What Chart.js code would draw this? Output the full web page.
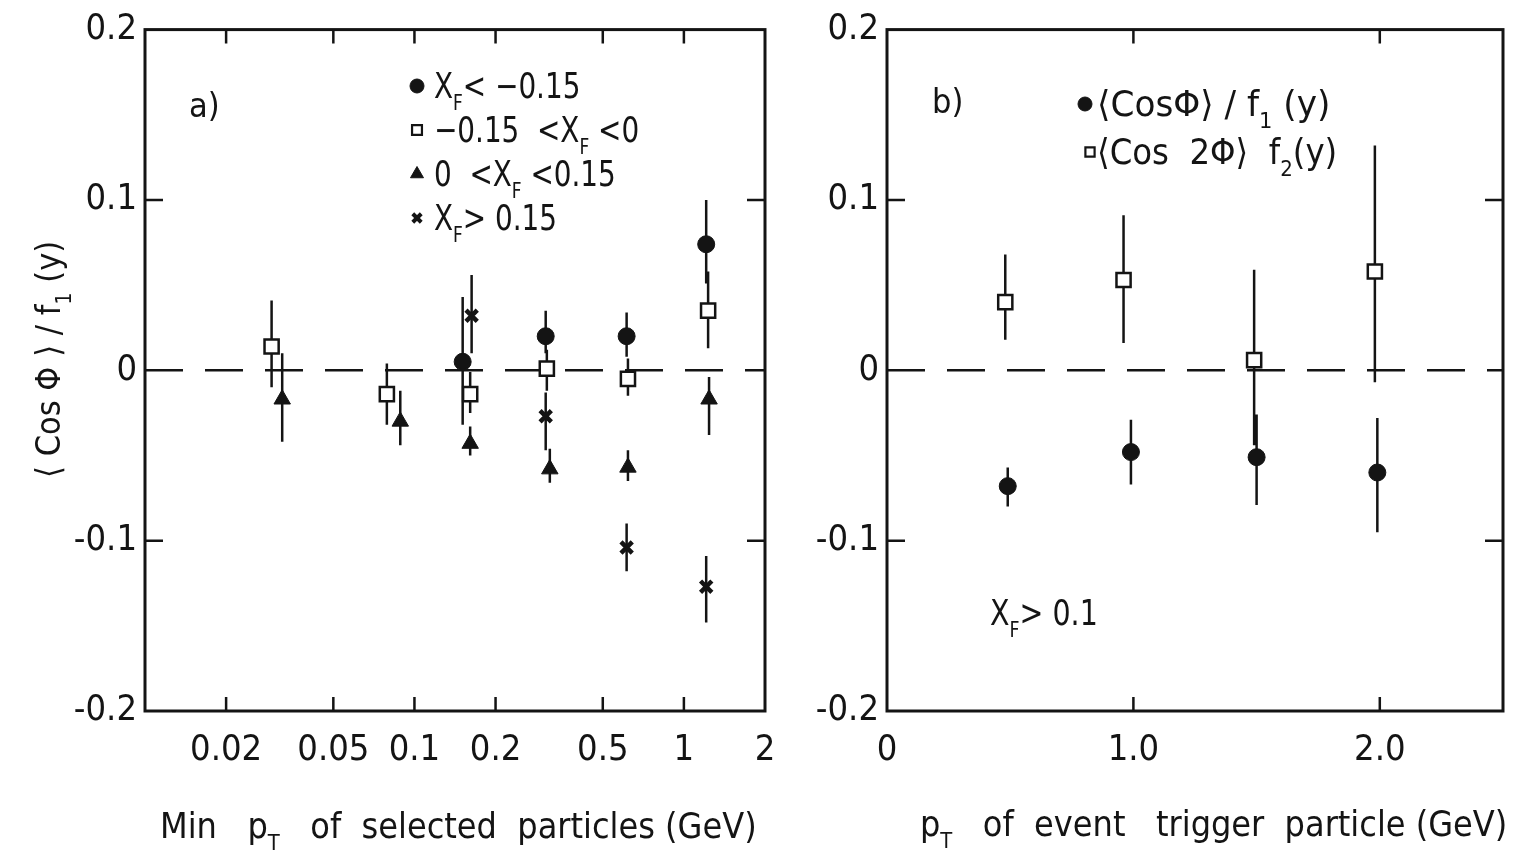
<!DOCTYPE html>
<html>
<head>
<meta charset="utf-8">
<script src="https://cdn.jsdelivr.net/npm/chart.js@4.4.1/dist/chart.umd.min.js"></script>
<style>
  html, body { margin: 0; padding: 0; background: #fff; }
  #wrapA { position: absolute; left: 0; top: 0; width: 780px; height: 859px; }
  #wrapB { position: absolute; left: 780px; top: 0; width: 737px; height: 859px; }
</style>
</head>
<body>
<div id="wrapA"><canvas id="chartA"></canvas></div>
<div id="wrapB"><canvas id="chartB"></canvas></div>
<script>
// ---- panel a) : <cos phi>/f1(y) vs min pT of selected particles ----
const aTicks = [0.02, 0.05, 0.1, 0.2, 0.5, 1, 2];
const aTickText = ['0.02', '0.05', '0.1', '0.2', '0.5', '1', '2'];

// x_F < -0.15 (filled circles)
const aNegX  = [0.151, 0.307, 0.613, 1.21];
const aNegY  = [0.005, 0.020, 0.020, 0.074];
const aNegLo = [-0.032, 0.010, 0.008, 0.051];
const aNegHi = [0.043, 0.035, 0.034, 0.100];

// -0.15 < x_F < 0 (open squares)
const aMidX  = [0.0295, 0.079, 0.161, 0.310, 0.620, 1.23];
const aMidY  = [0.014, -0.014, -0.014, 0.001, -0.005, 0.035];
const aMidLo = [-0.010, -0.032, -0.025, -0.012, -0.015, 0.013];
const aMidHi = [0.041, 0.004, -0.001, 0.012, 0.007, 0.058];

// 0 < x_F < 0.15 (filled triangles)
const aPosX  = [0.0323, 0.0886, 0.161, 0.318, 0.620, 1.24];
const aPosY  = [-0.017, -0.030, -0.043, -0.058, -0.057, -0.017];
const aPosLo = [-0.042, -0.044, -0.050, -0.066, -0.065, -0.038];
const aPosHi = [0.010, -0.012, -0.033, -0.046, -0.047, -0.004];

// x_F > 0.15 (crosses)
const aFwdX  = [0.163, 0.307, 0.613, 1.21];
const aFwdY  = [0.032, -0.027, -0.104, -0.127];
const aFwdLo = [0.010, -0.047, -0.118, -0.148];
const aFwdHi = [0.056, -0.013, -0.090, -0.109];

// ---- panel b) : vs pT of event trigger particle, x_F > 0.1 ----
const bTicks = [0, 1, 2];
const bTickText = ['0', '1.0', '2.0'];

// <cos phi>/f1(y) (filled circles)
const bCosX  = [0.49, 0.99, 1.50, 1.99];
const bCosY  = [-0.068, -0.048, -0.051, -0.060];
const bCosLo = [-0.080, -0.067, -0.079, -0.095];
const bCosHi = [-0.057, -0.029, -0.026, -0.028];

// <cos 2phi> f2(y) (open squares)
const bCos2X  = [0.48, 0.96, 1.49, 1.98];
const bCos2Y  = [0.040, 0.053, 0.006, 0.058];
const bCos2Lo = [0.018, 0.016, -0.044, -0.007];
const bCos2Hi = [0.068, 0.091, 0.059, 0.132];

const yTicks = [-0.2, -0.1, 0, 0.1, 0.2];
const yTickText = ['-0.2', '-0.1', '0', '0.1', '0.2'];

// legend / label texts; parts starting with "_" are subscripts
const legendA = [
  ['X', '_F', '< \u22120.15'],
  ['\u22120.15  <X', '_F', ' <0'],
  ['0  <X', '_F', ' <0.15'],
  ['X', '_F', '> 0.15']
];
const legendB = [
  ['\u27E8Cos\u03A6\u27E9 / f', '_1', ' (y)'],
  ['\u27E8Cos  2\u03A6\u27E9  f', '_2', '(y)']
];
const titleA = ['Min   p', '_T', '   of  selected  particles (GeV)'];
const titleB = ['p', '_T', '   of  event   trigger  particle (GeV)'];
const titleY = ['\u27E8 Cos \u03A6 \u27E9 / f', '_1', ' (y)'];

const FONT = "'Liberation Sans Narrow', 'DejaVu Sans Condensed', 'DejaVu Sans', sans-serif";
const INK = '#141414';

function pts(xs, ys) {
  return xs.map((x, i) => ({ x: x, y: ys[i] }));
}

// draws text parts with subscripts; squeeze narrows the run horizontally
function rich(ctx, parts, x, y, size, squeeze) {
  const k = squeeze || 1;
  ctx.save();
  ctx.translate(x, y);
  ctx.scale(k, 1);
  let cx = 0;
  parts.forEach(p => {
    const sub = p[0] === '_';
    const t = sub ? p.slice(1) : p;
    ctx.font = (sub ? Math.round(size * 0.62) : size) + 'px ' + FONT;
    ctx.fillText(t, cx, sub ? size * 0.32 : 0);
    cx += ctx.measureText(t).width;
  });
  ctx.restore();
}

function symbol(ctx, style, r, x, y, fill, bw) {
  ctx.fillStyle = fill;
  ctx.strokeStyle = INK;
  ctx.lineWidth = bw;
  Chart.helpers.drawPoint(ctx, { pointStyle: style, radius: r, borderWidth: bw, rotation: 0 }, x, y);
}

// frame, inward ticks, dashed zero line, error bars, texts
const decoPlugin = {
  id: 'deco',
  beforeDatasetsDraw(chart, args, o) {
    const { ctx, chartArea: a, scales: { x, y } } = chart;
    ctx.save();
    ctx.strokeStyle = INK;
    ctx.lineWidth = 3;
    ctx.strokeRect(a.left, a.top, a.right - a.left, a.bottom - a.top);
    ctx.lineWidth = 2.5;
    ctx.beginPath();
    o.xMarks.forEach(v => {
      const px = x.getPixelForValue(v);
      ctx.moveTo(px, a.top); ctx.lineTo(px, a.top + 14);
      ctx.moveTo(px, a.bottom); ctx.lineTo(px, a.bottom - 14);
    });
    [-0.1, 0.1].forEach(v => {
      const py = y.getPixelForValue(v);
      ctx.moveTo(a.left, py); ctx.lineTo(a.left + 18, py);
      ctx.moveTo(a.right, py); ctx.lineTo(a.right - 18, py);
    });
    ctx.stroke();

    ctx.setLineDash([38, 22]);
    ctx.beginPath();
    const y0 = y.getPixelForValue(0);
    ctx.moveTo(a.left, y0); ctx.lineTo(a.right, y0);
    ctx.stroke();
    ctx.setLineDash([]);

    ctx.lineWidth = 2.5;
    ctx.beginPath();
    chart.data.datasets.forEach(ds => {
      ds.data.forEach((p, j) => {
        const px = x.getPixelForValue(p.x);
        ctx.moveTo(px, y.getPixelForValue(ds.lo[j]));
        ctx.lineTo(px, y.getPixelForValue(ds.hi[j]));
      });
    });
    ctx.stroke();
    ctx.restore();
  },
  afterDraw(chart, args, o) {
    const ctx = chart.ctx;
    ctx.save();
    ctx.fillStyle = INK;
    ctx.textBaseline = 'alphabetic';
    ctx.textAlign = 'left';
    o.draw(ctx);
    ctx.restore();
  }
};

function scatterSet(xs, ys, lo, hi, style, r, fill, bw) {
  return {
    data: pts(xs, ys), lo: lo, hi: hi,
    pointStyle: style, pointRadius: r, pointHoverRadius: r,
    backgroundColor: fill, borderColor: INK, borderWidth: bw,
    showLine: false
  };
}

function yScale(width) {
  return {
    min: -0.2, max: 0.2,
    grid: { display: false, drawTicks: false },
    border: { display: false },
    afterBuildTicks: s => { s.ticks = yTicks.map(v => ({ value: v })); },
    afterFit: s => { s.width = width; },
    ticks: {
      padding: 8, color: INK, font: { family: FONT, size: 36 },
      callback: (v, i) => yTickText[i]
    }
  };
}

function xScale(extra, ticks, labels) {
  return Object.assign({
    grid: { display: false, drawTicks: false },
    border: { display: false },
    afterBuildTicks: s => { s.ticks = ticks.map(v => ({ value: v })); },
    afterFit: s => { s.height = 148; s.paddingLeft = 0; s.paddingRight = 0; },
    ticks: {
      autoSkip: false, maxRotation: 0, padding: 18, color: INK,
      font: { family: FONT, size: 36 },
      callback: (v, i) => labels[i]
    }
  }, extra);
}

new Chart(document.getElementById('chartA'), {
  type: 'scatter',
  data: {
    datasets: [
      scatterSet(aNegX, aNegY, aNegLo, aNegHi, 'circle', 8.5, INK, 1),
      scatterSet(aMidX, aMidY, aMidLo, aMidHi, 'rect', 10, '#fff', 2.5),
      scatterSet(aPosX, aPosY, aPosLo, aPosHi, 'triangle', 9.5, INK, 1),
      scatterSet(aFwdX, aFwdY, aFwdLo, aFwdHi, 'crossRot', 8, INK, 4.5)
    ]
  },
  options: {
    responsive: true, maintainAspectRatio: false, animation: false,
    layout: { padding: { left: 0, right: 15, top: 28, bottom: 0 } },
    plugins: {
      legend: { display: false }, tooltip: { enabled: false },
      deco: {
        xMarks: [0.02, 0.05, 0.1, 0.2, 0.5, 1],
        draw: ctx => {
          const styles = [['circle', 7, INK, 1], ['rect', 7, '#fff', 2.2], ['triangle', 7.5, INK, 1], ['crossRot', 6, INK, 4]];
          legendA.forEach((row, i) => {
            const cy = 86 + i * 44;
            const s = styles[i];
            symbol(ctx, s[0], s[1], 417, cy, s[2], s[3]);
            ctx.fillStyle = INK;
            rich(ctx, row, 434, cy + 12, 36, 0.86);
          });
          ctx.font = '34px ' + FONT;
          ctx.fillText('a)', 189, 117);
          rich(ctx, titleA, 160, 838, 36, 0.99);
          ctx.save();
          ctx.translate(60, 478);
          ctx.rotate(-Math.PI / 2);
          rich(ctx, titleY, 0, 0, 34);
          ctx.restore();
        }
      }
    },
    scales: {
      x: xScale({ type: 'logarithmic', min: 0.01, max: 2 }, aTicks, aTickText),
      y: yScale(145)
    }
  },
  plugins: [decoPlugin]
});

new Chart(document.getElementById('chartB'), {
  type: 'scatter',
  data: {
    datasets: [
      scatterSet(bCosX, bCosY, bCosLo, bCosHi, 'circle', 8.5, INK, 1),
      scatterSet(bCos2X, bCos2Y, bCos2Lo, bCos2Hi, 'rect', 10, '#fff', 2.5)
    ]
  },
  options: {
    responsive: true, maintainAspectRatio: false, animation: false,
    layout: { padding: { left: 0, right: 14, top: 28, bottom: 0 } },
    plugins: {
      legend: { display: false }, tooltip: { enabled: false },
      deco: {
        xMarks: [1, 2],
        draw: ctx => {
          symbol(ctx, 'circle', 7, 305, 104, INK, 1);
          symbol(ctx, 'rect', 6.5, 310, 152, '#fff', 2.2);
          ctx.fillStyle = INK;
          rich(ctx, legendB[0], 317, 116, 36, 1.06);
          rich(ctx, legendB[1], 317, 164, 36, 1.0);
          ctx.font = '34px ' + FONT;
          ctx.fillText('b)', 152, 113);
          rich(ctx, ['X', '_F', '> 0.1'], 210, 625, 36, 0.88);
          rich(ctx, titleB, 140, 836, 36, 0.99);
        }
      }
    },
    scales: {
      x: xScale({ type: 'linear', min: 0, max: 2.5 }, bTicks, bTickText),
      y: yScale(107)
    }
  },
  plugins: [decoPlugin]
});
</script>
</body>
</html>
